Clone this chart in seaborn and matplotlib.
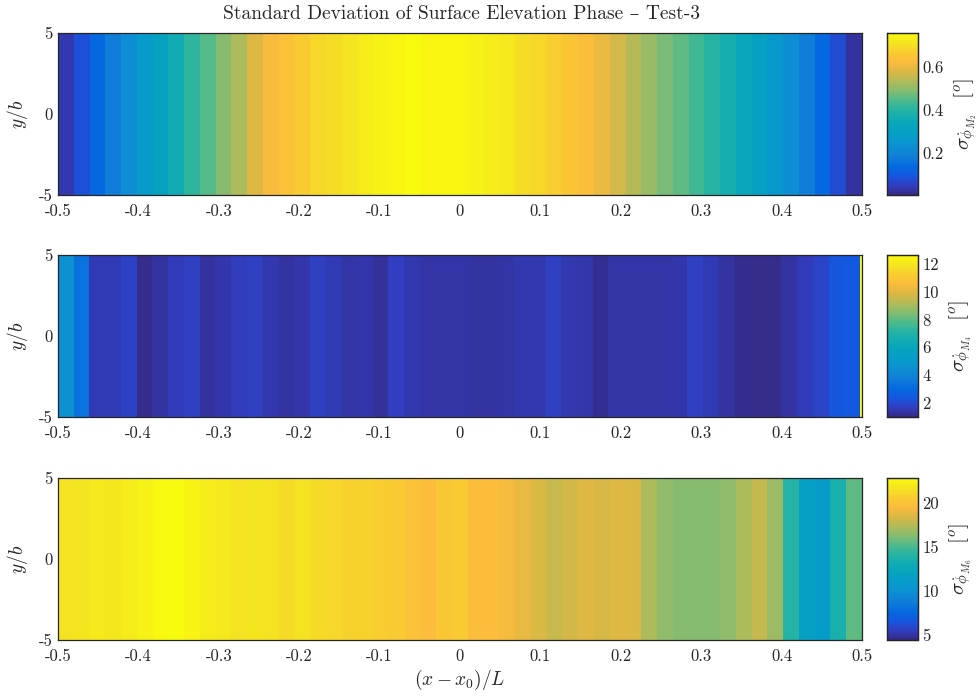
import numpy as np
import matplotlib
matplotlib.use("Agg")
import matplotlib.pyplot as plt
from matplotlib.colors import LinearSegmentedColormap
import seaborn as sns

# ---------------- data ----------------
x_nodes = [round(-0.5 + 0.02 * i, 2) for i in range(51)]

sigma_M2 = [0.03, 0.08, 0.13, 0.18, 0.22, 0.27, 0.31, 0.36, 0.41, 0.45,
            0.49, 0.53, 0.58, 0.62, 0.64, 0.66, 0.69, 0.70, 0.71, 0.73,
            0.74, 0.75, 0.76, 0.75, 0.75, 0.75, 0.74, 0.73, 0.72, 0.70,
            0.69, 0.67, 0.65, 0.63, 0.60, 0.57, 0.54, 0.51, 0.48, 0.46,
            0.43, 0.40, 0.37, 0.33, 0.30, 0.26, 0.22, 0.18, 0.13, 0.07,
            0.02]

sigma_M4 = [4.5, 3.3, 1.5, 1.5, 1.75, 1.0, 1.3, 1.55, 1.7, 1.25,
            1.4, 1.6, 1.7, 1.45, 1.3, 1.4, 1.7, 1.5, 1.35, 1.4,
            1.2, 1.65, 1.45, 1.35, 1.35, 1.35, 1.3, 1.3, 1.35, 1.45,
            1.45, 1.7, 1.45, 1.4, 1.1, 1.35, 1.35, 1.35, 1.35, 1.4,
            1.7, 1.5, 1.3, 1.05, 1.0, 1.0, 1.3, 1.55, 1.8, 2.3,
            2.4]
edge_M4 = 12.6

sigma_M6 = [21.5, 21.6, 21.9, 21.7, 22.0, 22.3, 22.6, 22.7, 22.4, 22.0,
            21.8, 21.5, 21.6, 21.5, 21.2, 21.5, 21.2, 21.0, 20.8, 20.8,
            20.6, 20.4, 19.8, 19.6, 20.2, 20.4, 19.6, 19.6, 19.3, 18.8,
            18.4, 17.9, 18.2, 18.5, 18.3, 18.5, 18.4, 17.2, 16.5, 16.3,
            16.3, 16.3, 16.5, 17.2, 17.8, 16.8, 14.0, 11.5, 11.0, 13.5,
            15.5]

y_ticklabels = ["5", "0", "-5"]
x_ticks = [-0.5, -0.4, -0.3, -0.2, -0.1, 0, 0.1, 0.2, 0.3, 0.4, 0.5]
x_ticklabels = ["-0.5", "-0.4", "-0.3", "-0.2", "-0.1", "0",
                "0.1", "0.2", "0.3", "0.4", "0.5"]

clims = [(0.0, 0.76), (0.95, 12.66), (4.47, 22.76)]
cbar_ticks = [[0.2, 0.4, 0.6], [2, 4, 6, 8, 10, 12], [5, 10, 15, 20]]
cbar_ticklabels = [["0.2", "0.4", "0.6"],
                   ["2", "4", "6", "8", "10", "12"],
                   ["5", "10", "15", "20"]]
cbar_labels = [r"$\sigma_{\dot{\phi}_{M_2}}$  [$^o$]",
               r"$\sigma_{\dot{\phi}_{M_4}}$  [$^o$]",
               r"$\sigma_{\dot{\phi}_{M_6}}$  [$^o$]"]
title = "Standard Deviation of Surface Elevation Phase \u2013 Test-3"

# ---------------- style ----------------
sns.set_theme(style="white")
plt.rcParams["font.family"] = ["cmr10", "DejaVu Serif"]
plt.rcParams["mathtext.fontset"] = "cm"
plt.rcParams["axes.unicode_minus"] = False
plt.rcParams["axes.formatter.use_mathtext"] = True

parula_pts = [
    (0.2081, 0.1663, 0.5292), (0.1902, 0.2436, 0.7566), (0.0791, 0.3398, 0.8783),
    (0.0165, 0.4166, 0.8786), (0.0641, 0.4923, 0.8453), (0.0500, 0.5600, 0.8300),
    (0.0232, 0.6107, 0.7925), (0.0238, 0.6387, 0.7506), (0.0590, 0.6738, 0.7054),
    (0.1540, 0.7046, 0.6360), (0.3139, 0.7311, 0.5380), (0.5290, 0.7373, 0.4390),
    (0.7044, 0.7313, 0.3427), (0.8651, 0.7213, 0.2633), (0.9856, 0.7372, 0.2337),
    (0.9763, 0.8038, 0.1868), (0.9599, 0.8985, 0.1215), (0.9763, 0.9831, 0.0538),
]
parula = LinearSegmentedColormap.from_list("parula", parula_pts, N=256)

W, H = 977, 696
fig = plt.figure(figsize=(W / 100, H / 100), dpi=100)

panels = [(sigma_M2, None), (sigma_M4, edge_M4), (sigma_M6, None)]
tops = [33, 255, 478]
ph = 162
rep = 8

for i, (vals, edge) in enumerate(panels):
    top = tops[i]
    ax = fig.add_axes([58 / W, 1 - (top + ph) / H, 804 / W, ph / H])
    cax = fig.add_axes([887 / W, 1 - (top + ph) / H, 31 / W, ph / H])
    row = np.repeat(np.asarray(vals, dtype=float), rep)
    if edge is not None:
        row = np.append(row, edge)
    data = np.vstack([row, row])
    ncol = data.shape[1]
    vmin, vmax = clims[i]
    sns.heatmap(data, ax=ax, cbar_ax=cax, cmap=parula, vmin=vmin, vmax=vmax,
                xticklabels=False, yticklabels=False, rasterized=True)
    ax.set_xlim(0, ncol)
    ax.set_ylim(2, 0)
    ax.set_xticks([(xv + 0.5) * ncol for xv in x_ticks])
    ax.set_xticklabels(x_ticklabels, rotation=0)
    ax.set_yticks([0, 1, 2])
    ax.set_yticklabels(y_ticklabels, rotation=0)
    for s in ax.spines.values():
        s.set_visible(True)
        s.set_color("#262626")
        s.set_linewidth(0.9)
    ax.tick_params(direction="in", length=4, width=0.7, color="#262626",
                   labelsize=12, labelcolor="#262626",
                   top=False, right=False, bottom=True, left=True)
    ax.tick_params(axis="x", pad=6)
    ax.tick_params(axis="y", pad=4)
    ax.set_ylabel(r"$y/b$", fontsize=14, color="#262626", labelpad=6)
    if i == 2:
        ax.set_xlabel(r"$(x-x_0)/L$", fontsize=14, color="#262626", labelpad=3)

    cax.set_yticks(cbar_ticks[i])
    cax.set_yticklabels(cbar_ticklabels[i])
    cax.tick_params(axis="y", direction="in", length=4, width=0.7, color="#262626",
                    labelsize=12, labelcolor="#262626", right=True, left=False,
                    labelright=True, labelleft=False, pad=3)
    for s in cax.spines.values():
        s.set_visible(True)
        s.set_color("#262626")
        s.set_linewidth(0.9)
    cax.set_ylabel(cbar_labels[i], fontsize=15, color="#262626", labelpad=6)
    cax.yaxis.set_label_position("right")

fig.text(462 / W, 1 - 14 / H, title, ha="center", va="center",
         fontsize=14, color="#262626")

fig.savefig("out.png", dpi=100)
